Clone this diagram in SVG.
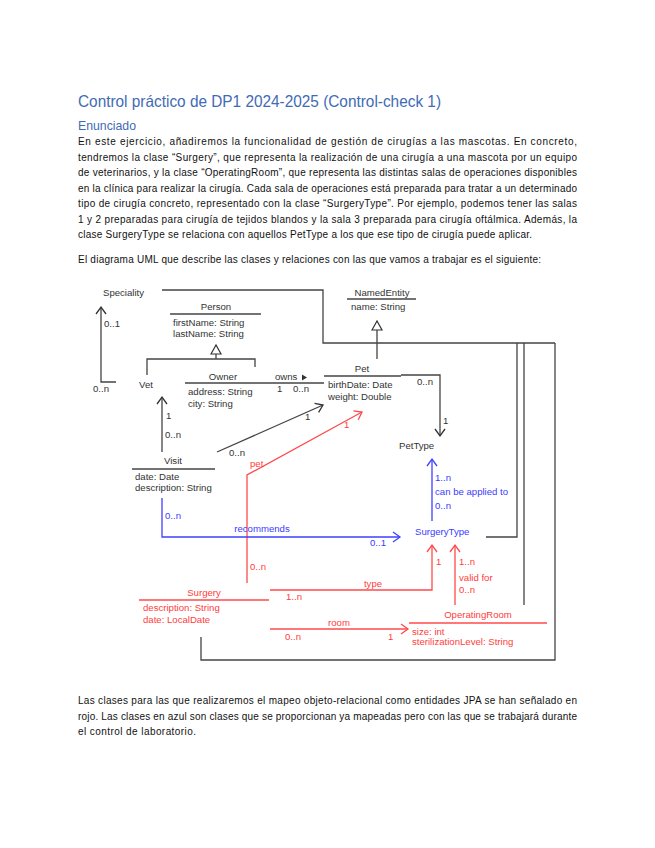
<svg xmlns="http://www.w3.org/2000/svg" width="655" height="848" viewBox="0 0 655 848">
<style>
.h1{font-family:"Liberation Sans",Arial,sans-serif;font-size:16.5px;fill:#3f6bb5}
.h2{font-family:"Liberation Sans",Arial,sans-serif;font-size:13px;fill:#3f6bb5}
.p{font-family:"Liberation Sans",Arial,sans-serif;font-size:10px;fill:#111}
.t{font-family:"Liberation Sans",Arial,sans-serif;font-size:9.6px;fill:#333}
.r{fill:#ff3d3d}
.b{fill:#3b3bff}
.m{text-anchor:middle}
.ln{stroke:#444;stroke-width:1.3;fill:none}
.lr{stroke:#ff4a4a;stroke-width:1.3;fill:none}
.lb{stroke:#4040ff;stroke-width:1.3;fill:none}
</style>
<defs>
<marker id="ak" markerUnits="userSpaceOnUse" markerWidth="12" markerHeight="12" refX="8" refY="6" orient="auto"><path d="M1,1 L8,6 L1,11" fill="none" stroke="#333" stroke-width="1.3"/></marker>
<marker id="ar" markerUnits="userSpaceOnUse" markerWidth="12" markerHeight="12" refX="8" refY="6" orient="auto"><path d="M1,1 L8,6 L1,11" fill="none" stroke="#ff4a4a" stroke-width="1.3"/></marker>
<marker id="ab" markerUnits="userSpaceOnUse" markerWidth="12" markerHeight="12" refX="8" refY="6" orient="auto"><path d="M1,1 L8,6 L1,11" fill="none" stroke="#4040ff" stroke-width="1.3"/></marker>
<marker id="gen" markerUnits="userSpaceOnUse" markerWidth="14" markerHeight="14" refX="10" refY="6" orient="auto"><path d="M1,1 L10,6 L1,11 Z" fill="#fff" stroke="#333" stroke-width="1.2"/></marker>
</defs>
<rect width="655" height="848" fill="#fff"/>

<g id="text">
<text class="h1" x="78" y="107" textLength="363" lengthAdjust="spacingAndGlyphs">Control práctico de DP1 2024-2025 (Control-check 1)</text>
<text class="h2" x="78" y="130" textLength="58" lengthAdjust="spacingAndGlyphs">Enunciado</text>
<text class="p" x="78" y="145" textLength="499" lengthAdjust="spacing">En este ejercicio, añadiremos la funcionalidad de gestión de cirugías a las mascotas. En concreto,</text>
<text class="p" x="78" y="160.5" textLength="499" lengthAdjust="spacing">tendremos la clase “Surgery”, que representa la realización de una cirugía a una mascota por un equipo</text>
<text class="p" x="78" y="176" textLength="499" lengthAdjust="spacing">de veterinarios, y la clase “OperatingRoom”, que representa las distintas salas de operaciones disponibles</text>
<text class="p" x="78" y="191.5" textLength="499" lengthAdjust="spacing">en la clínica para realizar la cirugía. Cada sala de operaciones está preparada para tratar a un determinado</text>
<text class="p" x="78" y="207" textLength="499" lengthAdjust="spacing">tipo de cirugía concreto, representado con la clase “SurgeryType”. Por ejemplo, podemos tener las salas</text>
<text class="p" x="78" y="222.5" textLength="499" lengthAdjust="spacing">1 y 2 preparadas para cirugía de tejidos blandos y la sala 3 preparada para cirugía oftálmica. Además, la</text>
<text class="p" x="78" y="238" textLength="454" lengthAdjust="spacing">clase SurgeryType se relaciona con aquellos PetType a los que ese tipo de cirugía puede aplicar.</text>
<text class="p" x="78" y="263" textLength="463" lengthAdjust="spacing">El diagrama UML que describe las clases y relaciones con las que vamos a trabajar es el siguiente:</text>
<text class="p" x="78" y="704" textLength="499" lengthAdjust="spacing">Las clases para las que realizaremos el mapeo objeto-relacional como entidades JPA se han señalado en</text>
<text class="p" x="78" y="719.5" textLength="499" lengthAdjust="spacing">rojo. Las clases en azul son clases que se proporcionan ya mapeadas pero con las que se trabajará durante</text>
<text class="p" x="78" y="735" textLength="118" lengthAdjust="spacing">el control de laboratorio.</text>
</g>

<g id="connectors">
<polyline class="ln" points="162,290 323,290 323,343 555,343"/>
<polyline class="ln" points="517,343 517,537 486,537"/>
<polyline class="ln" points="524,343 524,605"/>
<polyline class="ln" points="555,343 555,660 201,660 201,637"/>
<polyline class="ln" points="116,382 101,382 101,307" marker-end="url(#ak)"/>
<text class="t" x="104" y="327">0..1</text>
<text class="t" x="93" y="392">0..n</text>
<polyline class="ln" points="147,375 147,359 255,359 255,367"/>
<line class="ln" x1="216" y1="359" x2="216" y2="345" marker-end="url(#gen)"/>
<line class="ln" x1="262" y1="383" x2="324" y2="383"/>
<text class="t" x="275" y="380">owns</text>
<path d="M302,374.5 L307,377.5 L302,380.5 Z" fill="#333"/>
<text class="t" x="277" y="392">1</text>
<text class="t" x="293" y="392">0..n</text>
<line class="ln" x1="377" y1="359" x2="377" y2="321" marker-end="url(#gen)"/>
<polyline class="ln" points="401,375 440,375 440,436" marker-end="url(#ak)"/>
<text class="t" x="417" y="385">0..n</text>
<text class="t" x="443" y="424">1</text>
<line class="ln" x1="162" y1="452" x2="162" y2="397" marker-end="url(#ak)"/>
<text class="t" x="166" y="419">1</text>
<text class="t" x="165" y="438">0..n</text>
<line class="ln" x1="217" y1="452" x2="323" y2="405" marker-end="url(#ak)"/>
<text class="t" x="305" y="420">1</text>
<text class="t" x="229" y="456">0..n</text>
<polyline class="lr" points="247,583 247,475 362,412" marker-end="url(#ar)"/>
<text class="t r" x="250" y="467">pet</text>
<text class="t r" x="344" y="428">1</text>
<text class="t r" x="250" y="570">0..n</text>
<polyline class="lb" points="162,498 162,537 400,537" marker-end="url(#ab)"/>
<text class="t b" x="165" y="519">0..n</text>
<text class="t b m" x="262" y="532">recommends</text>
<text class="t b" x="370" y="546">0..1</text>
<line class="lb" x1="432" y1="521" x2="432" y2="459" marker-end="url(#ab)"/>
<text class="t b" x="435" y="481">1..n</text>
<text class="t b" x="435" y="495">can be applied to</text>
<text class="t b" x="435" y="509">0..n</text>
<polyline class="lr" points="270,590 432,590 432,545" marker-end="url(#ar)"/>
<text class="t r m" x="373" y="587">type</text>
<text class="t r" x="286" y="600">1..n</text>
<text class="t r" x="436" y="565">1</text>
<line class="lr" x1="455" y1="605" x2="455" y2="545" marker-end="url(#ar)"/>
<text class="t r" x="459" y="565">1..n</text>
<text class="t r" x="459" y="581">valid for</text>
<text class="t r" x="459" y="593">0..n</text>
<line class="lr" x1="270" y1="629" x2="408" y2="629" marker-end="url(#ar)"/>
<text class="t r m" x="339" y="626">room</text>
<text class="t r" x="285" y="640">0..n</text>
<text class="t r" x="388" y="640">1</text>
</g>

<g id="Speciality"><text class="t" x="103" y="296">Speciality</text></g>
<g id="Person">
<text class="t m" x="216" y="310">Person</text>
<line class="ln" x1="170" y1="314" x2="261" y2="314"/>
<text class="t" x="173" y="326">firstName: String</text>
<text class="t" x="173" y="337">lastName: String</text>
</g>
<g id="NamedEntity">
<text class="t m" x="382" y="296">NamedEntity</text>
<line class="ln" x1="347" y1="299" x2="416" y2="299"/>
<text class="t" x="351" y="310">name: String</text>
</g>
<g id="Vet"><text class="t m" x="146" y="388">Vet</text></g>
<g id="Owner">
<text class="t m" x="223" y="380">Owner</text>
<line class="ln" x1="185" y1="383" x2="262" y2="383"/>
<text class="t" x="188" y="395">address: String</text>
<text class="t" x="188" y="407">city: String</text>
</g>
<g id="Pet">
<text class="t m" x="362" y="372">Pet</text>
<line class="ln" x1="324" y1="376" x2="401" y2="376"/>
<text class="t" x="328" y="388">birthDate: Date</text>
<text class="t" x="328" y="400">weight: Double</text>
</g>
<g id="PetType"><text class="t" x="399" y="449">PetType</text></g>
<g id="Visit">
<text class="t m" x="173" y="464">Visit</text>
<line class="ln" x1="132" y1="469" x2="215" y2="469"/>
<text class="t" x="135" y="480">date: Date</text>
<text class="t" x="135" y="491">description: String</text>
</g>
<g id="SurgeryType"><text class="t b" x="415" y="535">SurgeryType</text></g>
<g id="Surgery">
<text class="t r m" x="204" y="596">Surgery</text>
<line class="lr" x1="139" y1="600" x2="269" y2="600"/>
<text class="t r" x="143" y="611">description: String</text>
<text class="t r" x="143" y="623">date: LocalDate</text>
</g>
<g id="OperatingRoom">
<text class="t r m" x="478" y="618">OperatingRoom</text>
<line class="lr" x1="409" y1="623" x2="547" y2="623"/>
<text class="t r" x="412" y="635">size: int</text>
<text class="t r" x="412" y="645">sterilizationLevel: String</text>
</g>
</svg>
